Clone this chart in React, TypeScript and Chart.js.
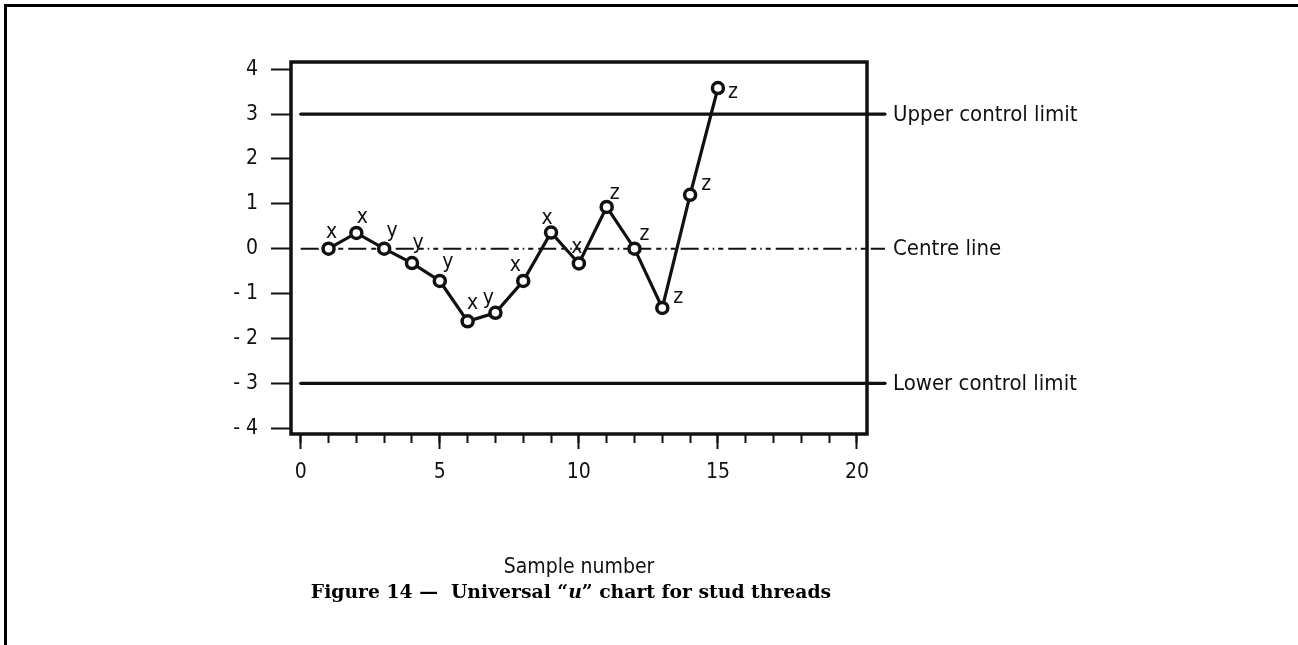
import React, { useEffect, useRef } from 'react';
import { Chart, registerables } from 'chart.js';

Chart.register(...registerables);

// Universal "u" chart data: standardised u values per sample
const sampleNumbers = [1, 2, 3, 4, 5, 6, 7, 8, 9, 10, 11, 12, 13, 14, 15];
const uValues = [0, 0.35, 0, -0.32, -0.72, -1.62, -1.43, -0.72, 0.36, -0.33, 0.93, 0, -1.32, 1.2, 3.58];
const pointLetters = ['x', 'x', 'y', 'y', 'y', 'x', 'y', 'x', 'x', 'x', 'z', 'z', 'z', 'z', 'z'];

const yTickValues = [-4, -3, -2, -1, 0, 1, 2, 3, 4];
const xMajorTicks = [0, 5, 10, 15, 20];
const xMinorTicks = [0, 1, 2, 3, 4, 5, 6, 7, 8, 9, 10, 11, 12, 13, 14, 15, 16, 17, 18, 19, 20];

const controlValues = [3, 0, -3];
const controlLabels = ['Upper control limit', 'Centre line', 'Lower control limit'];

const xAxisTitle = 'Sample number';

// axis extents
const X_MIN = -0.35;
const X_MAX = 20.36;
const Y_MIN = -4.13;
const Y_MAX = 4.16;

const FONT_FAMILY = "'DejaVu Sans Condensed', 'Liberation Sans Narrow', 'DejaVu Sans', sans-serif";
const FONT_SIZE = 21;
const LIMIT_FONT_SIZE = 22;
const INK = '#111';

// where each letter sits relative to its marker
const letterOffsets: [number, number][] = [
  [3, -16], [6, -15], [8, -17], [6, -19], [8, -18], [5, -17], [-7, -14], [-8, -15],
  [-4, -14], [-2, -15], [8, -13], [10, -14], [16, -10], [16, -10], [15, 5],
];

const centreDash = [18, 5, 5, 4, 1.5, 4, 5, 5];

const framePlugin = {
  id: 'controlFrame',
  beforeDatasetsDraw(chart: any) {
    const { ctx, chartArea: a, scales } = chart;
    const xs = scales.x;
    const ys = scales.y;
    ctx.save();
    ctx.strokeStyle = INK;
    ctx.fillStyle = INK;
    ctx.font = `${LIMIT_FONT_SIZE}px ${FONT_FAMILY}`;
    ctx.textBaseline = 'middle';
    ctx.textAlign = 'left';
    controlValues.forEach((v, i) => {
      const py = ys.getPixelForValue(v);
      const isCentre = v === 0;
      ctx.beginPath();
      ctx.lineWidth = isCentre ? 2 : 3.2;
      ctx.lineCap = isCentre ? 'butt' : 'round';
      ctx.setLineDash(isCentre ? centreDash : []);
      ctx.moveTo(xs.getPixelForValue(0), py);
      ctx.lineTo(a.right + 18, py);
      ctx.stroke();
      ctx.fillText(controlLabels[i], a.right + 26, py + 1);
    });
    ctx.setLineDash([]);
    ctx.lineWidth = 3.5;
    ctx.lineJoin = 'miter';
    ctx.strokeRect(a.left, a.top, a.right - a.left, a.bottom - a.top);
    ctx.restore();
  },
  afterDatasetsDraw(chart: any) {
    const { ctx } = chart;
    const meta = chart.getDatasetMeta(0);
    ctx.save();
    ctx.fillStyle = INK;
    ctx.font = `${FONT_SIZE}px ${FONT_FAMILY}`;
    ctx.textAlign = 'center';
    ctx.textBaseline = 'alphabetic';
    meta.data.forEach((pt: any, i: number) => {
      const [dx, dy] = letterOffsets[i];
      ctx.fillText(pointLetters[i], pt.x + dx, pt.y + dy + 5);
    });
    ctx.restore();
  },
};

export default function App() {
  const canvasRef = useRef<HTMLCanvasElement | null>(null);

  useEffect(() => {
    const canvas = canvasRef.current;
    if (!canvas) return;
    const font = { family: FONT_FAMILY, size: FONT_SIZE, lineHeight: 1.2 };
    const chart = new Chart(canvas, {
      type: 'line',
      data: {
        datasets: [
          {
            data: sampleNumbers.map((s, i) => ({ x: s, y: uValues[i] })),
            borderColor: INK,
            borderWidth: 3.2,
            pointRadius: 5.5,
            pointBorderWidth: 3.5,
            pointBackgroundColor: '#fff',
            pointBorderColor: INK,
            tension: 0,
            fill: false,
          },
        ],
      },
      plugins: [framePlugin],
      options: {
        responsive: false,
        animation: false,
        devicePixelRatio: 1,
        layout: { padding: { top: 62, right: 431, left: 0, bottom: 0 } },
        plugins: {
          legend: { display: false },
          tooltip: { enabled: false },
          title: { display: false },
        },
        scales: {
          x: {
            type: 'linear',
            position: 'bottom',
            min: X_MIN,
            max: X_MAX,
            afterBuildTicks: (s: any) => {
              s.ticks = xMinorTicks.map((v) => ({ value: v }));
            },
            afterFit: (s: any) => {
              s.height = 0;
            },
            ticks: { display: false },
            grid: { drawOnChartArea: false, drawTicks: true, tickLength: 9, tickWidth: 2, tickColor: INK },
            border: { display: false },
          },
          xMajor: {
            type: 'linear',
            position: 'bottom',
            min: X_MIN,
            max: X_MAX,
            afterBuildTicks: (s: any) => {
              s.ticks = xMajorTicks.map((v) => ({ value: v }));
            },
            afterFit: (s: any) => {
              s.height = 211;
            },
            ticks: {
              font,
              color: INK,
              padding: 11,
              maxRotation: 0,
              autoSkip: false,
              callback: (v: any) => String(v),
            },
            grid: { drawOnChartArea: false, drawTicks: true, tickLength: 15, tickWidth: 2, tickColor: INK },
            border: { display: false },
            title: {
              display: true,
              text: xAxisTitle,
              font,
              color: INK,
              padding: { top: 0, bottom: 65 },
            },
          },
          y: {
            type: 'linear',
            min: Y_MIN,
            max: Y_MAX,
            afterBuildTicks: (s: any) => {
              s.ticks = yTickValues.map((v) => ({ value: v }));
            },
            afterFit: (s: any) => {
              s.width = 291;
            },
            ticks: {
              font,
              color: INK,
              padding: 13,
              autoSkip: false,
              callback: (v: any) => (v < 0 ? `- ${Math.abs(v)}` : String(v)),
            },
            grid: { drawOnChartArea: false, drawTicks: true, tickLength: 20, tickWidth: 2, tickColor: INK },
            border: { display: false },
          },
        },
      },
    } as any);
    return () => chart.destroy();
  }, []);

  return (
    <div>
      <div
        style={{
          position: 'absolute',
          left: 4,
          top: 4,
          right: 0,
          bottom: 0,
          borderTop: '3px solid #000',
          borderLeft: '3px solid #000',
        }}
      />
      <canvas
        ref={canvasRef}
        width={1298}
        height={645}
        style={{ position: 'absolute', left: 0, top: 0, width: 1298, height: 645 }}
      />
      <div
        style={{
          position: 'absolute',
          left: 0,
          top: 580,
          width: 1142,
          textAlign: 'center',
          fontFamily: "'DejaVu Serif', serif",
          fontWeight: 'bold',
          fontSize: 18.8,
          color: '#000',
          whiteSpace: 'pre',
        }}
      >
        {'Figure 14 —  Universal “'}
        <i>u</i>
        {'” chart for stud threads'}
      </div>
    </div>
  );
}
